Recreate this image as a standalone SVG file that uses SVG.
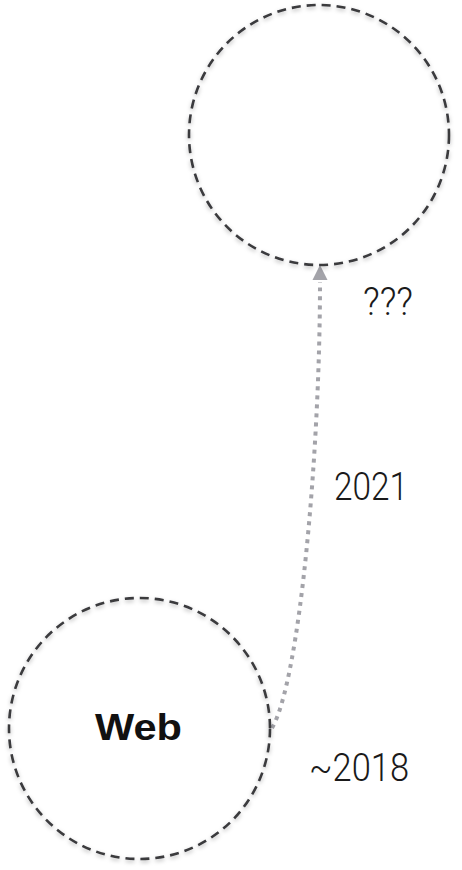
<svg xmlns="http://www.w3.org/2000/svg" width="462" height="870" viewBox="0 0 462 870">
  <defs>
    <filter id="shadow" x="-20%" y="-20%" width="140%" height="140%">
      <feDropShadow dx="0" dy="2" stdDeviation="2.2" flood-color="#000" flood-opacity="0.28"/>
    </filter>
  </defs>
  <style>
    .node { fill: none; stroke: #3a3a3e; stroke-width: 2.6; stroke-dasharray: 9 6; filter: url(#shadow); }
    .conn { fill: none; stroke: #a3a3a9; stroke-width: 4; stroke-dasharray: 4 5; }
    .head { fill: #a3a3a9; }
    .lbl { font-family: "Roboto", "Liberation Sans", sans-serif; font-weight: 300; font-size: 38px; fill: #1a1a1a; }
    .title { font-family: "Liberation Sans", Arial, sans-serif; font-weight: bold; font-size: 36px; fill: #111; }
  </style>
  <rect width="462" height="870" fill="#ffffff"/>
  <g id="connectors">
    <path class="conn" d="M272,728 C300,680 320,450 320,282"/>
    <polygon class="head" points="320,265 327.5,280 312.5,280"/>
    <text class="lbl" x="363" y="315" textLength="50" lengthAdjust="spacingAndGlyphs">???</text>
    <text class="lbl" x="334" y="500" textLength="74" lengthAdjust="spacingAndGlyphs">2021</text>
    <text class="lbl" x="309" y="781" textLength="100" lengthAdjust="spacingAndGlyphs">~2018</text>
  </g>
  <g id="node-future">
    <circle class="node" cx="319" cy="135" r="130"/>
  </g>
  <g id="node-web">
    <circle class="node" cx="139.5" cy="728.5" r="130.5"/>
    <text class="title" x="95" y="740" textLength="87" lengthAdjust="spacingAndGlyphs">Web</text>
  </g>
</svg>
